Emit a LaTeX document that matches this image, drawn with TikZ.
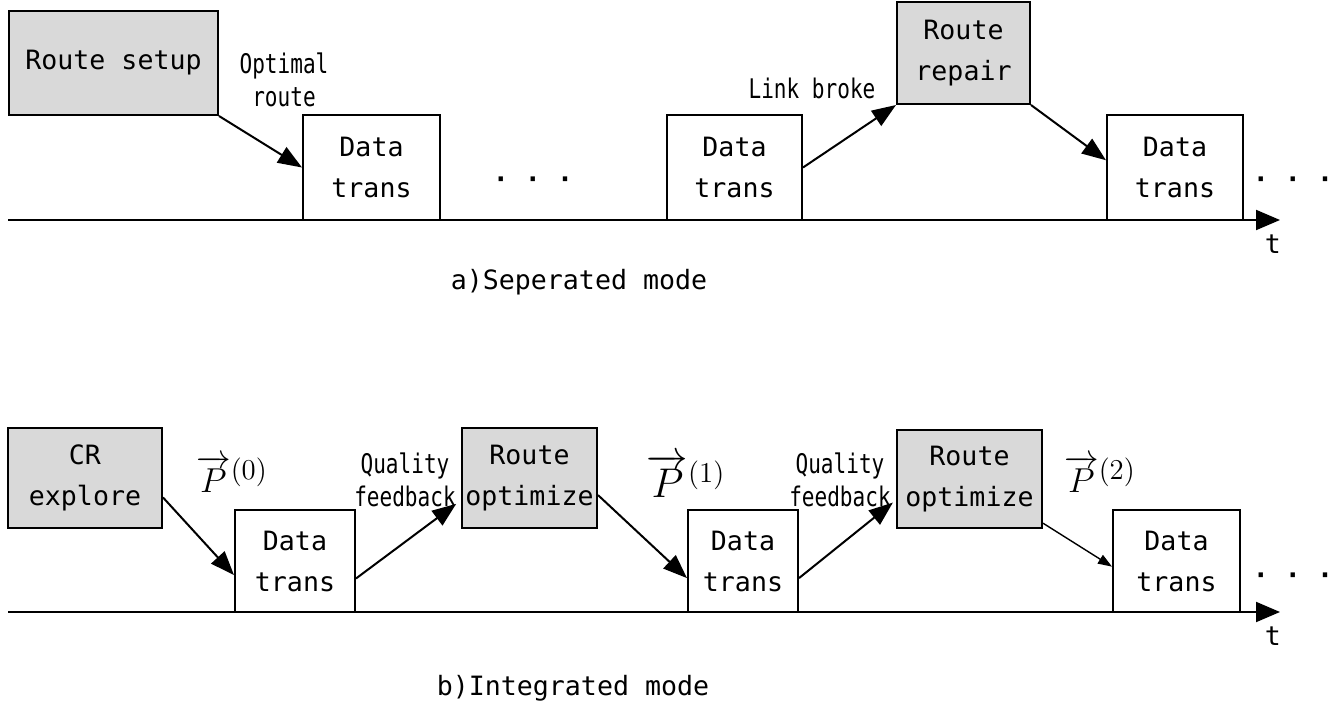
\documentclass[tikz,border=0pt]{standalone}
\usepackage{fontspec}
\setmainfont{DejaVu Sans Mono}
\newfontfamily\narrowfont[FakeStretch=0.78]{DejaVu Sans Mono}
\usepackage{tikz}
\usetikzlibrary{arrows.meta,positioning}
\usepackage{amsmath}
\tikzset{
  stagebox/.style={draw, line width=1pt, align=center, inner sep=0pt,
    font=\fontsize{13.3}{20.5}\selectfont},
  greybox/.style={stagebox, fill=black!15},
  flow/.style={-{Triangle[length=12pt,width=9pt]}, line width=1pt},
  timeaxis/.style={-{Triangle[length=12pt,width=10pt]}, line width=1pt},
  note/.style={align=center, font=\narrowfont\fontsize{13.5}{16.5}\selectfont},
  vecp/.style={font=\fontsize{19}{22}\selectfont, inner sep=1pt},
  dotrow/.style={font=\bfseries\fontsize{13.3}{16}\selectfont},
  modecap/.style={font=\fontsize{13.3}{16}\selectfont}
}

\begin{document}
\begin{tikzpicture}[x=0.5pt,y=-0.5pt]
\useasboundingbox (0,0) rectangle (1330,702);
% a) seperated mode
\node[greybox, minimum width=104.5pt, minimum height=52pt] (setup) at (113.5,63) {Route setup};
\node[stagebox, minimum width=68.5pt, minimum height=52.5pt] (dta1) at (371.5,167.5) {Data\\trans};
\node[stagebox, minimum width=67.5pt, minimum height=52.5pt] (dta2) at (734.5,167.5) {Data\\trans};
\node[greybox, minimum width=66.5pt, minimum height=51pt] (repair) at (963.5,53) {Route\\repair};
\node[stagebox, minimum width=68pt, minimum height=52.5pt] (dta3) at (1175,167.5) {Data\\trans};
\coordinate (ta0) at (8,220);
\coordinate (ta1) at (1280,220);
\draw[timeaxis] (ta0) -- (ta1);
\node[modecap] (tta) at (1273,244) {t};
\node[dotrow] (dotsa1) at (533,183) {· · ·};
\node[dotrow] (dotsa2) at (1293,183) {· · ·};
\node[note] (optimal) at (284,80) {Optimal\\route};
\node[note] (broke) at (812,88) {Link broke};
\draw[flow] (setup.south east) -- (dta1.west);
\draw[flow] (dta2.east) -- (repair.south west);
\draw[flow] (repair.south east) -- (dta3.174);
\node[modecap] (capa) at (579,282) {a)Seperated mode};

% b) integrated mode
\node[greybox, minimum width=77pt, minimum height=50pt] (explore) at (85,478) {CR\\explore};
\node[stagebox, minimum width=60pt, minimum height=51pt] (dtb1) at (295,561) {Data\\trans};
\node[greybox, minimum width=67.5pt, minimum height=50pt] (opt1) at (529.5,478) {Route\\optimize};
\node[stagebox, minimum width=55pt, minimum height=51pt] (dtb2) at (743,561) {Data\\trans};
\node[greybox, minimum width=72.5pt, minimum height=49pt] (opt2) at (969.5,479) {Route\\optimize};
\node[stagebox, minimum width=63.5pt, minimum height=51pt] (dtb3) at (1176.5,561) {Data\\trans};
\coordinate (tb0) at (8,612);
\coordinate (tb1) at (1280,612);
\draw[timeaxis] (tb0) -- (tb1);
\node[modecap] (ttb) at (1273,636) {t};
\node[dotrow] (dotsb) at (1293,579) {· · ·};
\node[vecp] (p0) at (232,474) {$\overrightarrow{P}^{(0)}$};
\node[vecp, font=\fontsize{21}{24}\selectfont] (p1) at (686,476) {$\overrightarrow{P}^{(1)}$};
\node[vecp] (p2) at (1100,474) {$\overrightarrow{P}^{(2)}$};
\node[note] (qual1) at (405,480) {Quality\\feedback};
\node[note] (qual2) at (840,480) {Quality\\feedback};
\draw[flow] (explore.-14) -- (dtb1.193);
\draw[flow, shorten >=3pt] (dtb1.-16) -- (opt1.198);
\draw[flow] (opt1.-14) -- (dtb2.197);
\draw[flow, shorten >=2pt] (dtb2.-17) -- (opt2.196);
\draw[-{Triangle[length=7pt,width=5pt]}, line width=0.7pt] (opt2.-31) -- (dtb3.185);
\node[modecap] (capb) at (573,688) {b)Integrated mode};
\end{tikzpicture}
\end{document}
